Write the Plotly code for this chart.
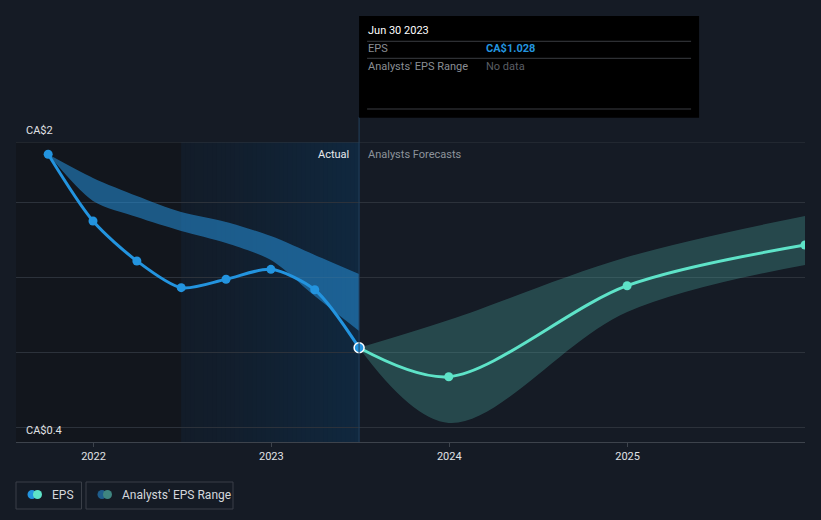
import plotly.graph_objects as go
import pandas as pd

# ---------------- data ----------------
eps_dates = ["2021-09-30", "2021-12-31", "2022-03-31", "2022-06-30",
             "2022-09-30", "2022-12-31", "2023-03-31", "2023-06-30"]
eps_values = [2.318, 1.873, 1.607, 1.429, 1.485, 1.551, 1.415, 1.028]

past_range_high = [2.318, 2.160, 2.040, 1.933, 1.867, 1.773, 1.647, 1.520]
past_range_low = [2.318, 2.007, 1.900, 1.807, 1.727, 1.613, 1.373, 1.140]

fc_dates = ["2023-06-30", "2023-12-31", "2024-12-31", "2025-12-31"]
fc_values = [1.028, 0.835, 1.442, 1.713]
fc_high = [1.028, 1.213, 1.633, 1.907]
fc_low = [1.028, 0.527, 1.267, 1.580]

x_ticks = ["2022-01-01", "2023-01-01", "2024-01-01", "2025-01-01"]
x_tick_labels = ["2022", "2023", "2024", "2025"]
y_grid = [0.5, 1.0, 1.5, 2.0]
y_min, y_max = 0.4, 2.4
y_labels = ["CA$0.4", "CA$2"]
x_range = ["2021-07-26", "2025-12-31"]
dark_end = "2022-06-30"
tooltip_date = "Jun 30 2023"
tooltip_eps = "CA$1.028"

FONT = "Roboto, 'Open Sans', sans-serif"
BG = "#151b25"
BLUE = "#2394df"
TEAL = "#5ee3c8"

fig = go.Figure()

shapes = []
annotations = []

# background regions (below gridlines)
shapes.append(dict(type="rect", xref="x", yref="paper", x0=x_range[0], x1=dark_end,
                   y0=0, y1=1, fillcolor="#12161d", line=dict(width=0), layer="below"))
t0 = pd.Timestamp(dark_end)
t1 = pd.Timestamp(fc_dates[0])
n = 40
c0 = (0x12, 0x1c, 0x29)
c1 = (0x10, 0x28, 0x3f)
for i in range(n):
    a = t0 + (t1 - t0) * i / n
    f = (i + 0.5) / n
    f = f ** 1.3
    col = "rgb(%d,%d,%d)" % tuple(round(c0[k] + (c1[k] - c0[k]) * f) for k in range(3))
    shapes.append(dict(type="rect", xref="x", yref="paper", x0=a, x1=t1,
                       y0=0, y1=1, fillcolor=col, line=dict(width=0), layer="below"))

# past analysts range band
fig.add_trace(go.Scatter(x=eps_dates, y=past_range_high, mode="lines",
                         line=dict(width=0, shape="spline", smoothing=0.8),
                         hoverinfo="skip", showlegend=False))
fig.add_trace(go.Scatter(x=eps_dates, y=past_range_low, mode="lines",
                         line=dict(width=0, shape="spline", smoothing=0.8),
                         fill="tonexty", fillcolor="rgba(38,142,215,0.56)",
                         hoverinfo="skip", showlegend=False))
# forecast band
fig.add_trace(go.Scatter(x=fc_dates, y=fc_high, mode="lines",
                         line=dict(width=0, shape="spline", smoothing=1.0),
                         hoverinfo="skip", showlegend=False))
fig.add_trace(go.Scatter(x=fc_dates, y=fc_low, mode="lines",
                         line=dict(width=0, shape="spline", smoothing=1.0),
                         fill="tonexty", fillcolor="rgba(80,180,170,0.30)",
                         hoverinfo="skip", showlegend=False))

# forecast line
fig.add_trace(go.Scatter(x=fc_dates, y=fc_values, mode="lines",
                         line=dict(color=TEAL, width=3, shape="spline", smoothing=0.9),
                         showlegend=False))
fig.add_trace(go.Scatter(x=fc_dates[1:], y=fc_values[1:], mode="markers",
                         marker=dict(color=TEAL, size=9), showlegend=False))
# actual line
fig.add_trace(go.Scatter(x=eps_dates, y=eps_values, mode="lines+markers",
                         line=dict(color=BLUE, width=3, shape="spline", smoothing=0.8),
                         marker=dict(color=BLUE, size=9), showlegend=False))
fig.add_trace(go.Scatter(x=eps_dates[-1:], y=eps_values[-1:], mode="markers",
                         marker=dict(color=BLUE, size=10,
                                     line=dict(color="white", width=1.5)),
                         showlegend=False))

# top gridline
shapes.append(dict(type="line", xref="paper", yref="y", x0=0, x1=1,
                   y0=y_max, y1=y_max, line=dict(color="#30363f", width=1), layer="between"))
# vertical divider line
shapes.append(dict(type="line", xref="x", yref="paper", x0=fc_dates[0], x1=fc_dates[0],
                   y0=0, y1=1.083, line=dict(color="#24425e", width=1)))

# tooltip box
shapes.append(dict(type="rect", xref="x", xsizemode="pixel", xanchor=fc_dates[0],
                   x0=0, x1=340, yref="paper", y0=1.081, y1=1.42,
                   fillcolor="#000000", line=dict(width=0)))
for yy in [1.3357, 1.279, 1.11]:
    shapes.append(dict(type="line", xref="x", xsizemode="pixel", xanchor=fc_dates[0],
                       x0=8, x1=332, yref="paper", y0=yy, y1=yy,
                       line=dict(color="#3a3d42", width=1)))

def tip(text, yy, xs, color, bold=False):
    annotations.append(dict(xref="x", yref="paper", x=fc_dates[0], y=yy, xshift=xs,
                            xanchor="left", yanchor="middle", showarrow=False,
                            text=("<b>%s</b>" % text) if bold else text,
                            font=dict(family=FONT, size=11, color=color)))

tip(tooltip_date, 1.37, 7, "#ffffff")
tip("EPS", 1.31, 7, "#8a8e94")
tip(tooltip_eps, 1.31, 125, BLUE, bold=True)
tip("Analysts' EPS Range", 1.2533, 7, "#8a8e94")
tip("No data", 1.2533, 125, "#5a5e64")

# Actual / Analysts Forecasts labels
annotations.append(dict(xref="x", yref="paper", x=fc_dates[0], y=(442 - 154) / 300,
                        xshift=-8, xanchor="right", yanchor="middle", showarrow=False,
                        text="Actual", font=dict(family=FONT, size=11, color="#e8eaed")))
annotations.append(dict(xref="x", yref="paper", x=fc_dates[0], y=(442 - 154) / 300,
                        xshift=7, xanchor="left", yanchor="middle", showarrow=False,
                        text="Analysts Forecasts", font=dict(family=FONT, size=11, color="#8d939b")))

# y labels
annotations.append(dict(xref="paper", yref="y", x=0, y=y_min, xshift=8, yshift=12,
                        xanchor="left", yanchor="middle", showarrow=False,
                        text=y_labels[0], font=dict(family=FONT, size=11, color="#e0e2e5")))
annotations.append(dict(xref="paper", yref="y", x=0, y=y_max, xshift=8, yshift=12,
                        xanchor="left", yanchor="middle", showarrow=False,
                        text=y_labels[1], font=dict(family=FONT, size=11, color="#e0e2e5")))

# legend (custom)
def px_x(p):
    return (p - 16) / 789.0

def px_y(p):
    return (442 - p) / 300.0

for (a, b) in [(16, 81.5), (86, 233)]:
    shapes.append(dict(type="rect", xref="paper", yref="paper",
                       x0=px_x(a), x1=px_x(b), y0=px_y(482), y1=px_y(509),
                       line=dict(color="#3a3f48", width=1), fillcolor="rgba(0,0,0,0)"))

def dot(cx, color):
    shapes.append(dict(type="circle", xref="paper", yref="paper",
                       xsizemode="pixel", ysizemode="pixel",
                       xanchor=px_x(cx), yanchor=px_y(494.5),
                       x0=-4.5, x1=4.5, y0=-4.5, y1=4.5,
                       fillcolor=color, line=dict(width=0)))

dot(32, BLUE)
dot(37.5, TEAL)
dot(102, "#1f5d8c")
dot(107.5, "#3f8580")

annotations.append(dict(xref="paper", yref="paper", x=px_x(50), y=px_y(494.5),
                        xanchor="left", yanchor="middle", showarrow=False, text="EPS",
                        font=dict(family=FONT, size=12, color="#d4d7dc")))
annotations.append(dict(xref="paper", yref="paper", x=px_x(119.5), y=px_y(494.5),
                        xanchor="left", yanchor="middle", showarrow=False,
                        text="Analysts' EPS Range",
                        font=dict(family=FONT, size=12, color="#d4d7dc")))

fig.update_layout(
    width=821, height=520,
    margin=dict(l=16, r=16, t=142, b=78),
    paper_bgcolor=BG, plot_bgcolor=BG,
    showlegend=False,
    shapes=shapes, annotations=annotations,
    hovermode=False,
    xaxis=dict(type="date", range=x_range, tickvals=x_ticks, ticktext=x_tick_labels,
               showgrid=False, zeroline=False, showline=True, linecolor="#3d434c",
               linewidth=1, ticks="outside", ticklen=4, tickcolor="#3d434c",
               tickfont=dict(family=FONT, size=11, color="#e0e2e5")),
    yaxis=dict(range=[y_min, y_max], tickvals=y_grid, showticklabels=False,
               showgrid=True, gridcolor="#2c323b", gridwidth=1, zeroline=False,
               showline=False),
)

fig.write_html("out.html")
